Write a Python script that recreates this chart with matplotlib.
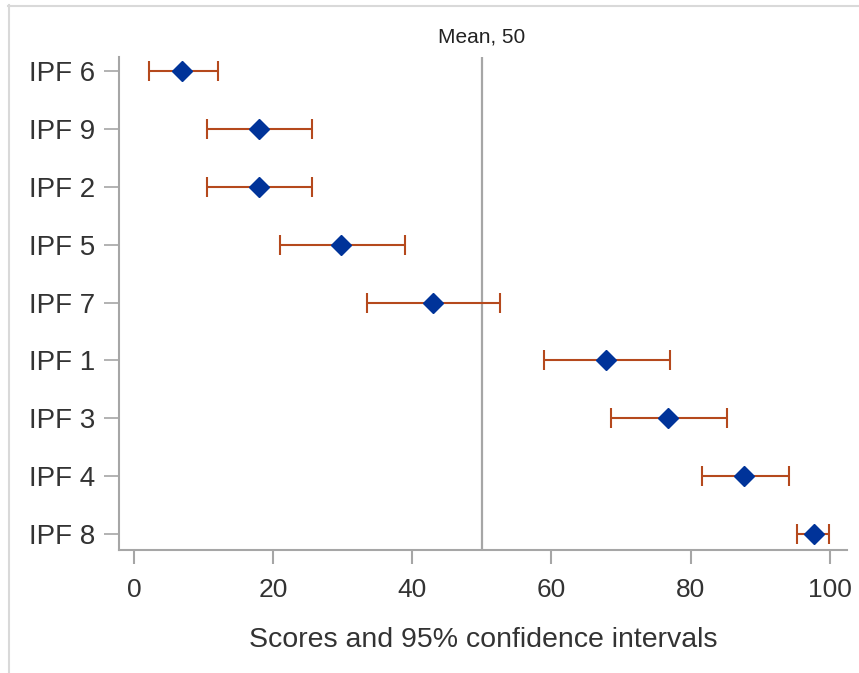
import matplotlib
matplotlib.use("Agg")
import matplotlib.pyplot as plt
from matplotlib.lines import Line2D

plt.rcParams['font.family'] = ['Liberation Sans', 'DejaVu Sans']

labels = ["IPF 6", "IPF 9", "IPF 2", "IPF 5", "IPF 7", "IPF 1", "IPF 3", "IPF 4", "IPF 8"]
scores = [6.8, 18.0, 18.0, 29.7, 42.9, 67.9, 76.8, 87.7, 97.8]
lower = [2.1, 10.4, 10.4, 21.0, 33.4, 58.9, 68.6, 81.6, 95.3]
upper = [12.1, 25.6, 25.6, 39.0, 52.6, 77.0, 85.3, 94.2, 99.9]
mean_value = 50
xticks = [0, 20, 40, 60, 80, 100]

W, H = 859, 673
fig = plt.figure(figsize=(W / 100, H / 100), dpi=100)
ax = fig.add_axes([119 / W, 1 - 550 / H, (847 - 119) / W, (550 - 57) / H])

ypos = list(range(len(labels)))
xerr = [[s - l for s, l in zip(scores, lower)], [u - s for s, u in zip(scores, upper)]]

ax.errorbar(scores, ypos, xerr=xerr, fmt='none', ecolor='#b5491d', elinewidth=1.5,
            capsize=7.5, capthick=1.5, zorder=2)
ax.plot(scores, ypos, linestyle='none', marker='D', markersize=10,
        markerfacecolor='#003399', markeredgecolor='#003399', zorder=3)

ax.axvline(mean_value, color='#a6a6a6', linewidth=1.6, zorder=1)
ax.text(mean_value, 1.022, f"Mean, {mean_value}", transform=ax.get_xaxis_transform(),
        ha='center', va='bottom', fontsize=15, color='#222222')

ax.set_xlim(-2.2, 102.5)
ax.set_ylim(8.276, -0.242)
ax.set_yticks(ypos)
ax.set_yticklabels(labels)
ax.set_xticks(xticks)

for side in ['top', 'right']:
    ax.spines[side].set_visible(False)
for side in ['left', 'bottom']:
    ax.spines[side].set_color('#a6a6a6')
    ax.spines[side].set_linewidth(1.5)

ax.tick_params(axis='x', direction='out', length=10, width=1.5, color='#a6a6a6',
               labelsize=19, labelcolor='#333333', pad=10)
ax.tick_params(axis='y', direction='out', length=11, width=1.2, color='#a6a6a6',
               labelsize=20, labelcolor='#333333', pad=6)
ax.set_xlabel("Scores and 95% confidence intervals", fontsize=20.5, color='#333333', labelpad=18)

# light frame lines at top and left of the figure
fig.add_artist(Line2D([8 / W, 1], [1 - 5.5 / H, 1 - 5.5 / H], color='#d9d9d9', linewidth=1.5,
                      transform=fig.transFigure))
fig.add_artist(Line2D([8.5 / W, 8.5 / W], [0, 1 - 5 / H], color='#d9d9d9', linewidth=1.5,
                      transform=fig.transFigure))

fig.savefig("out.png", dpi=100)
